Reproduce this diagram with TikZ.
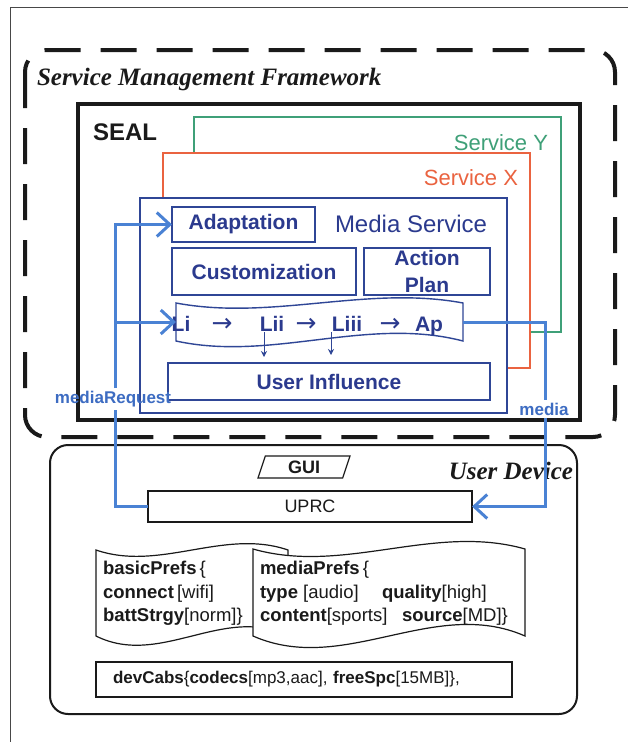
\documentclass[tikz,border=0pt]{standalone}
\usepackage{fontspec}
\setmainfont{Liberation Serif}
\setsansfont{Liberation Sans}
\newfontfamily\arrowfont{DejaVu Sans}
\usetikzlibrary{arrows.meta,shapes.geometric}
\definecolor{navy}{HTML}{2B3A8E}
\definecolor{navyline}{HTML}{2F4696}
\definecolor{flowblue}{HTML}{4A82D4}
\definecolor{labblue}{HTML}{3D6CC2}
\definecolor{sgreen}{HTML}{3FA078}
\definecolor{sred}{HTML}{EA6340}
\definecolor{ink}{HTML}{1A1A1A}
\newcommand{\myfs}[2]{\fontsize{#1}{#2}\selectfont}
\begin{document}
\begin{tikzpicture}[x=1pt,y=-1pt,
  every node/.style={inner sep=0pt,outer sep=0pt},
  frameline/.style={draw=ink!80,line width=1pt},
  svcbox/.style={draw=#1,line width=2pt,fill=white,minimum width=367pt,minimum height=215pt},
  ibox/.style={draw=navyline,line width=2.4pt,fill=white,text=navy,font=\sffamily\bfseries\myfs{21}{27}},
  ilabel/.style={text=navy,font=\sffamily\bfseries\myfs{21}{26},inner sep=1pt,anchor=base},
  arrlabel/.style={text=navy,font=\arrowfont\myfs{25}{26},inner sep=1pt,anchor=base},
  flow/.style={draw=flowblue,line width=3pt},
  barb/.style={-{Straight Barb[length=13pt,width=24pt]}},
  flowlab/.style={text=labblue,font=\sffamily\bfseries\myfs{17}{20},inner sep=3pt},
  tapebox/.style={draw=ink,line width=1.2pt,fill=white},
  pref/.style={font=\sffamily\myfs{18.5}{22},text=ink,anchor=base west},
  blackbox/.style={draw=ink,line width=2pt,fill=white},
  smallarrow/.style={draw=navyline,line width=1pt,-{Stealth[length=6pt,width=6pt]}}
]
\useasboundingbox (0,0) rectangle (628,742);
\fill[white] (0,0) rectangle (628,742);
% scan frame
\draw[frameline] (628,7) -- (10,7) -- (10,742);
% Service Management Framework
\draw[ink,line width=4pt,dash pattern=on 36pt off 20pt,rounded corners=22pt] (25,50) rectangle (615,437);
\node[anchor=base west,text=ink,font=\rmfamily\bfseries\itshape\myfs{25}{30}] (smf) at (37,85) {Service Management Framework};
% SEAL
\node[draw=ink,line width=3.5pt,minimum width=502pt,minimum height=316pt] (seal) at (329,262) {};
\node[anchor=base west,text=ink,font=\sffamily\bfseries\myfs{24}{28}] (seallab) at (93,140) {SEAL};
% services
\node[svcbox=sgreen] (svcy) at (377,224.5) {};
\node[anchor=east,text=sgreen,font=\sffamily\myfs{22}{26}] (svcylab) at (548,143) {Service Y};
\node[svcbox=sred] (svcx) at (346.5,260.5) {};
\node[anchor=east,text=sred,font=\sffamily\myfs{22}{26}] (svcxlab) at (518,178) {Service X};
\node[svcbox=navyline] (media) at (323.5,305.5) {};
\node[anchor=west,text=navy,font=\sffamily\myfs{24}{28}] (medialab) at (335,224) {Media Service};
% inner boxes
\node[ibox,minimum width=143pt,minimum height=35pt] (adapt) at (243.5,224.5) {Adaptation};
\node[ibox,minimum width=184pt,minimum height=47pt] (custom) at (264,271.5) {Customization};
\node[ibox,minimum width=126pt,minimum height=47pt,align=center] (action) at (427,271.5) {Action\\Plan};
\node[ibox,minimum width=322pt,minimum height=37pt] (ui) at (329,381.5) {User Influence};
% Li tape
\draw[draw=navyline,line width=1.4pt,fill=white]
  (176,303) .. controls (272,321) and (367,285) .. (463,303)
  -- (463,341) .. controls (367,316) and (272,362) .. (176,341) -- cycle;
\coordinate (tapeW) at (176,322);
\coordinate (tapeE) at (463,322);
\node[ilabel] (li) at (181,331) {Li};
\node[arrlabel] (a1) at (222,331) {→};
\node[ilabel] (lii) at (272,331) {Lii};
\node[arrlabel] (a2) at (306,331) {→};
\node[ilabel] (liii) at (347,331) {Liii};
\node[arrlabel] (a3) at (390,331) {→};
\node[ilabel] (ap) at (429,331) {Ap};
\draw[smallarrow,shorten >=6pt] ([xshift=-8pt]lii.south) -- ([xshift=-8pt]lii.south |- ui.north);
\draw[smallarrow,shorten >=8pt] ([xshift=-16pt]liii.south) -- ([xshift=-16pt]liii.south |- ui.north);
% user device
\node[draw=ink,line width=2pt,rounded corners=18pt,minimum width=527pt,minimum height=269pt] (ud) at (313.5,579.5) {};
\node[anchor=base east,text=ink,font=\rmfamily\bfseries\itshape\myfs{25}{30}] (udlab) at (573,479) {User Device};
\node[draw=ink,line width=1.2pt,trapezium,trapezium left angle=60,trapezium right angle=120,trapezium stretches body,minimum width=92pt,minimum height=22pt,text=ink,font=\sffamily\bfseries\myfs{18}{20}] (gui) at (304,467) {GUI};
\node[blackbox,line width=1.6pt,minimum width=324pt,minimum height=31pt,text=ink,font=\sffamily\myfs{18}{20}] (uprc) at (310,506.5) {UPRC};
% prefs tapes
\draw[tapebox] (96,550) .. controls (160,572) and (224,528) .. (288,550)
  -- (288,636) .. controls (224,604) and (160,668) .. (96,636) -- cycle;
\draw[tapebox] (253,549) .. controls (344,575) and (434,523) .. (525,549)
  -- (525,636) .. controls (434,596) and (344,676) .. (253,636) -- cycle;
\node[pref] (bp1) at (103,574) {\textbf{basicPrefs}\,\{};
\node[pref] (bp2) at (103,598) {\textbf{connect}\,[wifi]};
\node[pref] (bp3) at (103,621) {\textbf{battStrgy}[norm]\}};
\node[pref] (mp1) at (260,574) {\textbf{mediaPrefs}\,\{};
\node[pref] (mp2) at (260,598) {\textbf{type} [audio]};
\node[pref] (mp3) at (382,598) {\textbf{quality}[high]};
\node[pref] (mp4) at (260,621) {\textbf{content}[sports]};
\node[pref] (mp5) at (402,621) {\textbf{source}[MD]\}};
\node[blackbox,minimum width=416pt,minimum height=35pt,text width=382pt,align=left,text=ink,font=\sffamily\myfs{17}{20}] (dev) at (304,679.5) {\textbf{devCabs}\{\textbf{codecs}[mp3,aac], \textbf{freeSpc}[15MB]\},};
% flows
\coordinate (mrx) at (115,0);
\coordinate (mdx) at (545,0);
\node[flowlab] (mrlab) at (113,399) {mediaRequest};
\node[flowlab] (mdlab) at (544,409) {media};
\draw[flow] (uprc.west) -- (uprc.west -| mrx) -- (mrlab.south -| mrx);
\draw[flow,barb] (mrlab.north -| mrx) |- (adapt.west);
\draw[flow,barb] (tapeW -| mrx) -- (tapeW);
\draw[flow] (tapeE) -| (mdlab.north -| mdx);
\draw[flow,barb] (mdlab.south -| mdx) |- (uprc.east);
\end{tikzpicture}
\end{document}
